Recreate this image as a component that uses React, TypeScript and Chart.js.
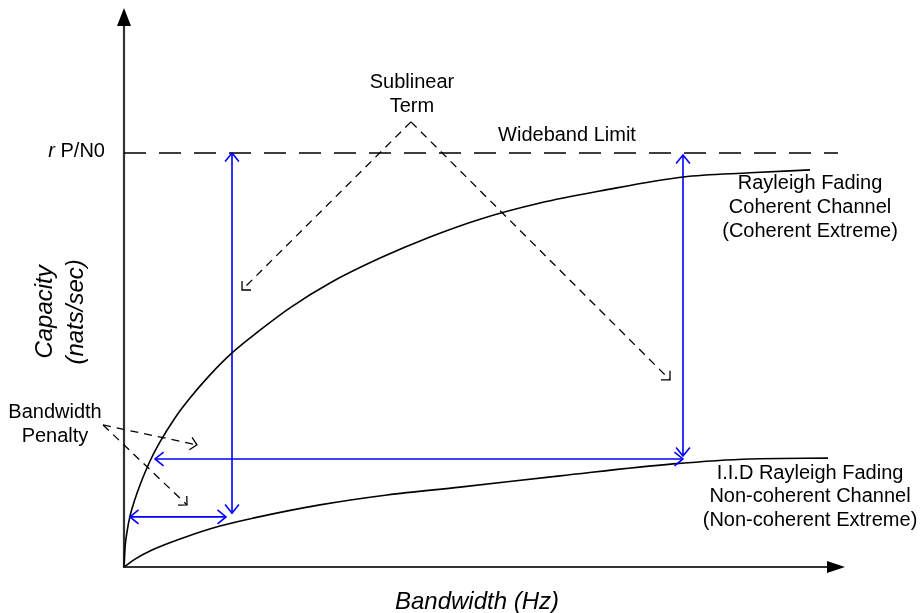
import React, { useEffect, useRef } from "react";
import { Chart, registerables } from "chart.js";

Chart.register(...registerables);

// Bandwidth in arbitrary units (0..100), capacity normalised so that r P/N0 = 1
const coherentBandwidth = [0, 0.14, 0.42, 0.83, 1.53, 2.22, 3.61, 4.99, 7.07, 9.15, 11.93, 14.98, 18.86, 23.02, 28.57, 35.51, 42.44, 49.38, 57.7, 66.02, 77.53, 86.82, 95.15];
const coherentCapacity = [0, 0.046, 0.085, 0.123, 0.164, 0.198, 0.256, 0.302, 0.36, 0.408, 0.464, 0.517, 0.572, 0.626, 0.686, 0.746, 0.797, 0.84, 0.879, 0.908, 0.942, 0.952, 0.959];

const noncoherentBandwidth = [0, 1.53, 3.88, 8.46, 13.31, 17.89, 27.18, 36.48, 46.6, 60.47, 76.14, 86.82, 97.64];
const noncoherentCapacity = [0, 0.019, 0.041, 0.072, 0.099, 0.118, 0.15, 0.174, 0.193, 0.22, 0.249, 0.261, 0.263];

const wideband = [0, 99.03];
const widebandLimit = 1;

// blue double arrows: [x1, y1, x2, y2]
const blueArrows = [
  [14.98, 1.0, 14.98, 0.13],
  [77.53, 0.995, 77.53, 0.268],
  [4.3, 0.261, 77.53, 0.261],
  [0.83, 0.121, 14.15, 0.121],
];

// dashed annotation arrows: [x1, y1, x2, y2]
const dashedArrows = [
  [39.8, 1.075, 16.37, 0.669],
  [39.8, 1.075, 75.73, 0.452],
  [-2.91, 0.343, 10.12, 0.295],
  [-2.91, 0.343, 8.74, 0.15],
];

const xMax = 100;
const yMax = 1.35;

const FONT = "'Liberation Sans', Arial, sans-serif";

type Label = { lines: string[]; x: number; y: number; size: number; italic?: boolean; align: CanvasTextAlign; rotate?: boolean; lh: number };

const labels: Label[] = [
  { lines: ["Wideband Limit"], x: 61.44, y: 1.043, size: 20, align: "center", lh: 24 },
  { lines: ["Sublinear", "Term"], x: 39.94, y: 1.169, size: 20, align: "center", lh: 24 },
  { lines: ["Rayleigh Fading", "Coherent Channel", "(Coherent Extreme)"], x: 95.15, y: 0.927, size: 20, align: "center", lh: 24 },
  { lines: ["I.I.D Rayleigh Fading", "Non-coherent Channel", "(Non-coherent Extreme)"], x: 95.15, y: 0.227, size: 20, align: "center", lh: 23.5 },
  { lines: ["Bandwidth", "Penalty"], x: -9.57, y: 0.374, size: 20, align: "center", lh: 24 },
  { lines: ["Bandwidth (Hz)"], x: 48.96, y: -0.0845, size: 24, italic: true, align: "center", lh: 31 },
  { lines: ["Capacity", "(nats/sec)"], x: -10.96, y: 0.616, size: 24, italic: true, align: "center", rotate: true, lh: 31 },
];

const pairs = (xs: number[], ys: number[]) => xs.map((x, i) => ({ x, y: ys[i] }));

function drawHead(ctx: CanvasRenderingContext2D, tx: number, ty: number, fx: number, fy: number, len: number, ang: number) {
  const a = Math.atan2(ty - fy, tx - fx);
  ctx.beginPath();
  ctx.moveTo(tx - len * Math.cos(a - ang), ty - len * Math.sin(a - ang));
  ctx.lineTo(tx, ty);
  ctx.lineTo(tx - len * Math.cos(a + ang), ty - len * Math.sin(a + ang));
  ctx.stroke();
}

const axesPlugin = {
  id: "axesArrows",
  beforeDatasetsDraw(chart: any) {
    const { ctx, scales } = chart;
    const x0 = scales.x.getPixelForValue(0);
    const y0 = scales.y.getPixelForValue(0);
    const top = scales.y.getPixelForValue(yMax);
    const right = scales.x.getPixelForValue(xMax);
    ctx.save();
    ctx.strokeStyle = "#333";
    ctx.fillStyle = "#000";
    ctx.lineWidth = 2.2;
    ctx.beginPath();
    ctx.moveTo(x0, y0 + 1);
    ctx.lineTo(x0, top + 16);
    ctx.moveTo(x0 - 1, y0);
    ctx.lineTo(right - 16, y0);
    ctx.stroke();
    ctx.beginPath();
    ctx.moveTo(x0, top);
    ctx.lineTo(x0 - 7, top + 18);
    ctx.lineTo(x0 + 7, top + 18);
    ctx.closePath();
    ctx.fill();
    ctx.beginPath();
    ctx.moveTo(right, y0);
    ctx.lineTo(right - 18, y0 - 6);
    ctx.lineTo(right - 18, y0 + 6);
    ctx.closePath();
    ctx.fill();
    ctx.restore();
  },
};

const headsPlugin = {
  id: "arrowHeads",
  afterDatasetsDraw(chart: any) {
    const { ctx } = chart;
    chart.data.datasets.forEach((ds: any, i: number) => {
      if (!ds.arrowKind) return;
      const pts = chart.getDatasetMeta(i).data;
      const p0 = pts[0];
      const p1 = pts[pts.length - 1];
      ctx.save();
      ctx.setLineDash([]);
      ctx.strokeStyle = ds.borderColor;
      ctx.lineWidth = ds.borderWidth;
      if (ds.arrowKind === "double") {
        drawHead(ctx, p1.x, p1.y, p0.x, p0.y, 11, 0.68);
        drawHead(ctx, p0.x, p0.y, p1.x, p1.y, 11, 0.68);
      } else {
        drawHead(ctx, p1.x, p1.y, p0.x, p0.y, 9, Math.PI / 4);
      }
      ctx.restore();
    });
  },
};

const textPlugin = {
  id: "texts",
  afterDraw(chart: any) {
    const { ctx, scales } = chart;
    ctx.save();
    ctx.fillStyle = "#000";
    ctx.textBaseline = "middle";
    // r P/N0 label
    const ry = scales.y.getPixelForValue(widebandLimit) - 1;
    const rx = scales.x.getPixelForValue(-2.64);
    ctx.font = `20px ${FONT}`;
    const w2 = ctx.measureText(" P/N0").width;
    ctx.textAlign = "left";
    ctx.fillText(" P/N0", rx - w2, ry);
    ctx.font = `italic 20px ${FONT}`;
    const w1 = ctx.measureText("r").width;
    ctx.fillText("r", rx - w2 - w1, ry);

    labels.forEach((l) => {
      const px = scales.x.getPixelForValue(l.x);
      const py = scales.y.getPixelForValue(l.y);
      ctx.font = `${l.italic ? "italic " : ""}${l.size}px ${FONT}`;
      ctx.textAlign = l.align;
      if (l.rotate) {
        ctx.save();
        ctx.translate(px, py);
        ctx.rotate(-Math.PI / 2);
        l.lines.forEach((s, k) => ctx.fillText(s, 0, k * l.lh));
        ctx.restore();
      } else {
        l.lines.forEach((s, k) => ctx.fillText(s, px, py + k * l.lh));
      }
    });
    ctx.restore();
  },
};

export default function App() {
  const ref = useRef<HTMLCanvasElement | null>(null);
  useEffect(() => {
    document.body.style.margin = "0";
    const datasets: any[] = [
      {
        data: pairs(coherentBandwidth, coherentCapacity),
        borderColor: "#000",
        borderWidth: 1.6,
        cubicInterpolationMode: "monotone",
      },
      {
        data: pairs(noncoherentBandwidth, noncoherentCapacity),
        borderColor: "#000",
        borderWidth: 1.6,
        cubicInterpolationMode: "monotone",
      },
      {
        data: wideband.map((x) => ({ x, y: widebandLimit })),
        borderColor: "#000",
        borderWidth: 1.4,
        borderDash: [22, 13],
      },
      ...blueArrows.map((a) => ({
        data: [{ x: a[0], y: a[1] }, { x: a[2], y: a[3] }],
        borderColor: "#0000ff",
        borderWidth: 1.6,
        arrowKind: "double",
      })),
      ...dashedArrows.map((a) => ({
        data: [{ x: a[0], y: a[1] }, { x: a[2], y: a[3] }],
        borderColor: "#000",
        borderWidth: 1.3,
        borderDash: [8, 6],
        arrowKind: "open",
      })),
    ].map((d) => ({ showLine: true, pointRadius: 0, pointHoverRadius: 0, fill: false, clip: false, ...d }));

    const chart = new Chart(ref.current as HTMLCanvasElement, {
      type: "scatter",
      data: { datasets },
      options: {
        responsive: false,
        animation: false,
        events: [],
        layout: { padding: { left: 124, right: 75, top: 8, bottom: 46 } },
        plugins: { legend: { display: false }, tooltip: { enabled: false } },
        scales: {
          x: { type: "linear", min: 0, max: xMax, display: false },
          y: { type: "linear", min: 0, max: yMax, display: false },
        },
      },
      plugins: [axesPlugin, headsPlugin, textPlugin],
    } as any);
    return () => chart.destroy();
  }, []);
  return <canvas ref={ref} width={920} height={613} style={{ display: "block" }} />;
}
